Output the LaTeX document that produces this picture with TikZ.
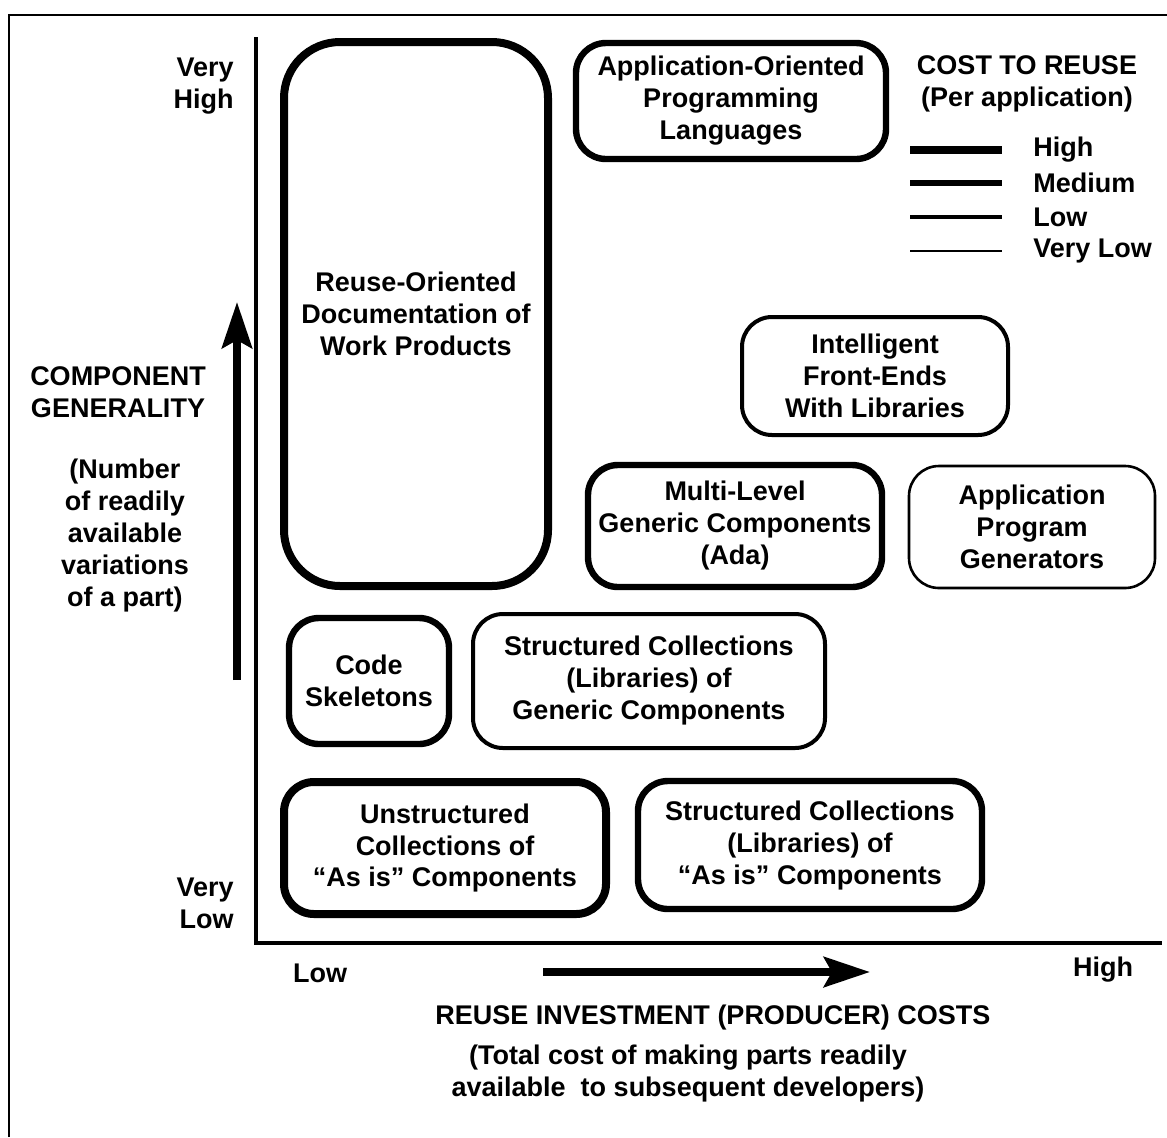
\documentclass[tikz,border=0pt]{standalone}
\usepackage{fontspec}
\setmainfont{Liberation Sans}
\usetikzlibrary{arrows.meta}
\tikzset{
  lbl/.style={font=\bfseries\fontsize{13.5}{16}\selectfont, align=center, inner sep=0pt},
  box/.style={draw, lbl, rounded corners=15pt},
  costhigh/.style={line width=4pt},
  costmed/.style={line width=3.2pt},
  costlow/.style={line width=2pt},
  costvlow/.style={line width=1.3pt},
  bigarrow/.style={line width=4pt, -{Stealth[length=23pt,width=15pt,inset=4pt]}},
}
\begin{document}
\begin{tikzpicture}[x=0.5pt,y=-0.5pt]
\useasboundingbox (0,0) rectangle (1167,1137);
% frame and axes
\draw[line width=1.3pt] (9,1137) -- (9,15) -- (1167,15);
\coordinate (origin) at (256,943);
\coordinate (ytop) at (256,37);
\coordinate (xend) at (1162,943);
\draw[line width=2pt] (ytop) -- (origin) -- (xend);
% components
\node[box, costhigh, rounded corners=28pt, minimum width=132pt, minimum height=272pt] (doc) at (416,314) {Reuse-Oriented\\Documentation of\\Work Products};
\node[box, costmed, minimum width=155pt, minimum height=58pt] (lang) at (731,101) {Application-Oriented\\Programming\\Languages};
\node[box, costlow, minimum width=133pt, minimum height=59pt] (front) at (875,376) {Intelligent\\Front-Ends\\With Libraries};
\node[box, costmed, minimum width=147pt, minimum height=61pt] (multi) at (735,526) {Multi-Level\\Generic Components\\(Ada)};
\node[box, costvlow, minimum width=123pt, minimum height=61pt] (gen) at (1032,527) {Application\\Program\\Generators};
\node[box, costmed, minimum width=80pt, minimum height=63pt] (skel) at (369,681) {Code\\Skeletons};
\node[box, costlow, minimum width=176pt, minimum height=67pt] (libgen) at (649,681) {Structured Collections\\(Libraries) of\\Generic Components};
\node[box, costhigh, minimum width=161pt, minimum height=66pt] (unstr) at (445,848) {Unstructured\\Collections of\\``As is'' Components};
\node[box, costmed, minimum width=172pt, minimum height=64pt] (libas) at (810,845) {Structured Collections\\(Libraries) of\\``As is'' Components};
% legend
\node[lbl] (costtitle) at (1027,84) {COST TO REUSE\\(Per application)};
\foreach \y/\w/\t [count=\i] in {150/costhigh/High, 183/costmed/Medium, 217/costlow/Low, 251/costvlow/Very Low} {
  \coordinate (key\i a) at (910,\y);
  \coordinate (key\i b) at (1002,\y);
  \draw[\w] (key\i a) -- (key\i b);
  \node[lbl, anchor=west] (key\i) at (1033,\y) {\t};
}
% vertical axis labels
\node[lbl, anchor=east, align=right] (yhigh) at (234,86) {Very\\High};
\node[lbl, anchor=east, align=right] (ylow) at (234,903) {Very\\Low};
\node[lbl] (ytitle) at (118,392) {COMPONENT\\GENERALITY};
\node[lbl] (ynote) at (125,536) {(Number\\of readily\\available\\variations\\of a part)};
\coordinate (yarr0) at (237,680);
\coordinate (yarr1) at (237,302);
\draw[bigarrow] (yarr0) -- (yarr1);
% horizontal axis labels
\node[lbl] (xlow) at (320,973) {Low};
\node[lbl] (xhigh) at (1103,970) {High};
\coordinate (xarr0) at (543,972);
\coordinate (xarr1) at (870,972);
\draw[bigarrow] (xarr0) -- (xarr1);
\node[lbl] (xtitle) at (713,1017) {REUSE INVESTMENT (PRODUCER) COSTS};
\node[lbl] (xnote) at (688,1073) {(Total cost of making parts readily\\available\ \ to subsequent developers)};
\end{tikzpicture}
\end{document}
